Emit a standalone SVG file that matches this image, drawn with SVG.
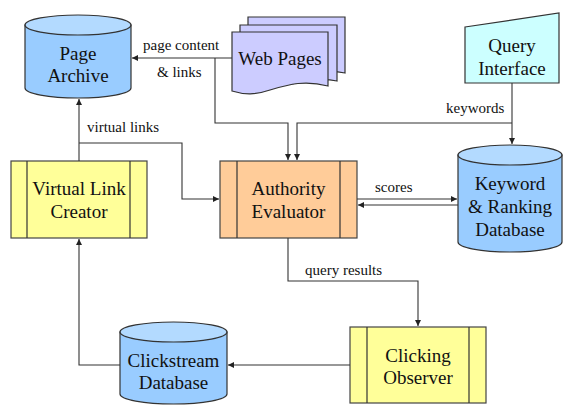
<svg xmlns="http://www.w3.org/2000/svg" width="563" height="405" viewBox="0 0 563 405">
<defs>
<marker id="ah" markerWidth="8" markerHeight="8" refX="6" refY="3" orient="auto" markerUnits="userSpaceOnUse">
<path d="M0,0 L6,3 L0,6 Z" fill="#222"/>
</marker>
</defs>
<rect width="563" height="405" fill="#fff"/>

<g id="page-archive">
<path d="M25,25 V88 A53,10 0 0 0 131,88 V25 Z" fill="#99CCFF" stroke="#333" stroke-width="1.2"/>
<ellipse cx="78" cy="25" rx="53" ry="10" fill="#B3DAFF" stroke="#333" stroke-width="1.2"/>
<text x="78" y="60" font-family="Liberation Serif" font-size="19" text-anchor="middle" fill="#111">Page</text>
<text x="78" y="82" font-family="Liberation Serif" font-size="19" text-anchor="middle" fill="#111">Archive</text>
</g>

<g id="web-pages">
<path d="M248,17 H345 V73 C330,70 318,72 300,76 L248,76 Z" fill="#CCCCFF" stroke="#333" stroke-width="1.2"/>
<path d="M240,25 H337 V81 C322,78 310,80 292,84 L240,84 Z" fill="#CCCCFF" stroke="#333" stroke-width="1.2"/>
<path d="M232,32 H328 V86 C305,80 290,84 270,90 C255,95 245,95 232,91 Z" fill="#CCCCFF" stroke="#333" stroke-width="1.2"/>
<text x="280" y="65" font-family="Liberation Serif" font-size="19" text-anchor="middle" fill="#111">Web Pages</text>
</g>

<g id="query-interface">
<polygon points="465,27 559,13 559,83 465,83" fill="#CCFFFF" stroke="#333" stroke-width="1.2"/>
<text x="512" y="52" font-family="Liberation Serif" font-size="19" text-anchor="middle" fill="#111">Query</text>
<text x="512" y="75" font-family="Liberation Serif" font-size="19" text-anchor="middle" fill="#111">Interface</text>
</g>

<g id="keyword-db">
<path d="M458,155 V242 A52,10 0 0 0 562,242 V155 Z" fill="#99CCFF" stroke="#333" stroke-width="1.2"/>
<ellipse cx="510" cy="155" rx="52" ry="10" fill="#B3DAFF" stroke="#333" stroke-width="1.2"/>
<text x="510" y="190" font-family="Liberation Serif" font-size="19" text-anchor="middle" fill="#111">Keyword</text>
<text x="510" y="213" font-family="Liberation Serif" font-size="19" text-anchor="middle" fill="#111">&amp; Ranking</text>
<text x="510" y="236" font-family="Liberation Serif" font-size="19" text-anchor="middle" fill="#111">Database</text>
</g>

<g id="virtual-link-creator">
<rect x="11" y="161" width="136" height="77" fill="#FFFF99" stroke="#444" stroke-width="1.2"/>
<line x1="27" y1="161" x2="27" y2="238" stroke="#333" stroke-width="1.2"/>
<line x1="130" y1="161" x2="130" y2="238" stroke="#333" stroke-width="1.2"/>
<text x="79" y="195" font-family="Liberation Serif" font-size="19" text-anchor="middle" fill="#111">Virtual Link</text>
<text x="79" y="218" font-family="Liberation Serif" font-size="19" text-anchor="middle" fill="#111">Creator</text>
</g>

<g id="authority-evaluator">
<rect x="220" y="161" width="137" height="77" fill="#FFCC99" stroke="#444" stroke-width="1.2"/>
<line x1="237" y1="161" x2="237" y2="238" stroke="#333" stroke-width="1.2"/>
<line x1="340" y1="161" x2="340" y2="238" stroke="#333" stroke-width="1.2"/>
<text x="288.5" y="195" font-family="Liberation Serif" font-size="19" text-anchor="middle" fill="#111">Authority</text>
<text x="288.5" y="218" font-family="Liberation Serif" font-size="19" text-anchor="middle" fill="#111">Evaluator</text>
</g>

<g id="clickstream-db">
<path d="M120,332 V394 A53.5,10 0 0 0 227,394 V332 Z" fill="#99CCFF" stroke="#333" stroke-width="1.2"/>
<ellipse cx="173.5" cy="332" rx="53.5" ry="10" fill="#B3DAFF" stroke="#333" stroke-width="1.2"/>
<text x="173.5" y="367" font-family="Liberation Serif" font-size="19" text-anchor="middle" fill="#111">Clickstream</text>
<text x="173.5" y="389" font-family="Liberation Serif" font-size="19" text-anchor="middle" fill="#111">Database</text>
</g>

<g id="clicking-observer">
<rect x="350" y="327" width="136" height="76" fill="#FFFF99" stroke="#444" stroke-width="1.2"/>
<line x1="367" y1="327" x2="367" y2="403" stroke="#333" stroke-width="1.2"/>
<line x1="469" y1="327" x2="469" y2="403" stroke="#333" stroke-width="1.2"/>
<text x="418" y="362" font-family="Liberation Serif" font-size="19" text-anchor="middle" fill="#111">Clicking</text>
<text x="418" y="384" font-family="Liberation Serif" font-size="19" text-anchor="middle" fill="#111">Observer</text>
</g>

<g id="connectors" fill="none" stroke="#333" stroke-width="1.1" marker-end="url(#ah)">
<path d="M232,58 H132"/>
<path d="M215,58 V123 H288 V160"/>
<path d="M512,83 V144"/>
<path d="M512,123 H297 V160"/>
<path d="M79,161 V99"/>
<path d="M79,143 H182 V199 H219"/>
<path d="M357,199 H457"/>
<path d="M458,205 H358"/>
<path d="M288,238 V281 H418 V326"/>
<path d="M350,365 H228"/>
<path d="M120,365 H79 V239"/>
</g>

<g id="labels">
<text x="143" y="50" font-family="Liberation Serif" font-size="15" fill="#111">page content</text>
<text x="157" y="77" font-family="Liberation Serif" font-size="15" fill="#111">&amp; links</text>
<text x="87" y="132" font-family="Liberation Serif" font-size="15" fill="#111">virtual links</text>
<text x="446" y="113" font-family="Liberation Serif" font-size="15" fill="#111">keywords</text>
<text x="375" y="192" font-family="Liberation Serif" font-size="15" fill="#111">scores</text>
<text x="305" y="275" font-family="Liberation Serif" font-size="15" fill="#111">query results</text>
</g>
</svg>
